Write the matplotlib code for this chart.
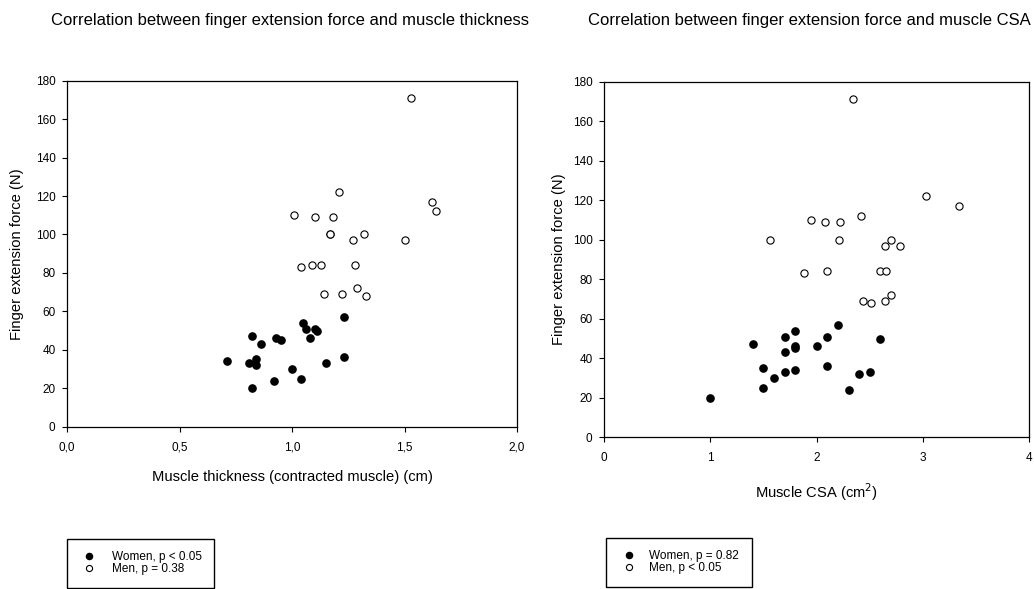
import matplotlib
matplotlib.use("Agg")
from matplotlib import pyplot as plt
from matplotlib.ticker import FuncFormatter

plt.rcParams['font.family'] = ['Liberation Sans', 'DejaVu Sans']

# muscle thickness (cm) vs force (N)
thick_women = [1.23, 1.05, 1.06, 1.10, 1.11, 0.82, 0.93, 0.95, 1.08, 0.86,
               1.23, 0.71, 0.84, 0.81, 0.84, 1.15, 1.00, 1.04, 0.92, 0.82]
force_women_t = [57, 54, 51, 51, 50, 47, 46, 45, 46, 43,
                 36, 34, 35, 33, 32, 33, 30, 25, 24, 20]
thick_men = [1.53, 1.21, 1.62, 1.64, 1.01, 1.10, 1.18, 1.17, 1.17, 1.32,
             1.27, 1.50, 1.04, 1.09, 1.13, 1.28, 1.29, 1.14, 1.22, 1.33]
force_men_t = [171, 122, 117, 112, 110, 109, 109, 100, 100, 100,
               97, 97, 83, 84, 84, 84, 72, 69, 69, 68]

# muscle CSA (cm^2) vs force (N)
csa_women = [2.20, 1.80, 1.70, 2.10, 2.60, 1.40, 1.80, 2.00, 1.80, 1.70,
             1.50, 2.10, 1.70, 1.80, 2.50, 2.40, 1.60, 1.50, 2.30, 1.00]
force_women_c = [57, 54, 51, 51, 50, 47, 46, 46, 45, 43,
                 35, 36, 33, 34, 33, 32, 30, 25, 24, 20]
csa_men = [2.34, 3.03, 3.34, 2.42, 1.95, 2.08, 2.22, 1.56, 2.21, 2.70,
           2.64, 2.78, 1.88, 2.10, 2.60, 2.65, 2.70, 2.44, 2.51, 2.64]
force_men_c = [171, 122, 117, 112, 110, 109, 109, 100, 100, 100,
               97, 97, 83, 84, 84, 84, 72, 69, 68, 69]

yticks = list(range(0, 181, 20))
xticks_thick = [0.0, 0.5, 1.0, 1.5, 2.0]
xticks_csa = [0, 1, 2, 3, 4]


def style(ax):
    ax.tick_params(direction='out', length=3.8, width=0.8, labelsize=8.5)
    ax.tick_params(axis='x', pad=7)
    ax.tick_params(axis='y', pad=4.5)
    for s in ax.spines.values():
        s.set_linewidth(0.9)
    ax.set_yticks(yticks)
    ax.set_ylim(0, 180)


def scatter(ax, xw, yw, xm, ym, lw, lm):
    ax.plot(xw, yw, 'o', color='black', markersize=5.2, linestyle='none', label=lw)
    ax.plot(xm, ym, 'o', markerfacecolor='white', markeredgecolor='black',
            markeredgewidth=0.8, markersize=5.2, linestyle='none', label=lm)


fig = plt.figure(figsize=(10.34, 5.89), dpi=100)

ax1 = fig.add_axes([67 / 1034, 1 - 426.7 / 589, 450 / 1034, 346 / 589])
scatter(ax1, thick_women, force_women_t, thick_men, force_men_t,
        'Women, p < 0.05', 'Men, p = 0.38')
style(ax1)
ax1.set_xlim(0, 2)
ax1.set_xticks(xticks_thick)
ax1.xaxis.set_major_formatter(FuncFormatter(lambda v, p: ('%.1f' % v).replace('.', ',')))
ax1.set_xlabel('Muscle thickness (contracted muscle) (cm)', fontsize=10.6, labelpad=12)
ax1.set_ylabel('Finger extension force (N)', fontsize=10.6, labelpad=8)
fig.text(290 / 1034, 1 - 20 / 589, 'Correlation between finger extension force and muscle thickness',
         ha='center', va='center', fontsize=12)
ax1.legend(loc='upper left', bbox_to_anchor=(67.3 / 1034, 1 - 539 / 589),
           bbox_transform=fig.transFigure, fontsize=8.5, frameon=True, fancybox=False,
           edgecolor='black', framealpha=1, borderpad=1.05, handlelength=1.5,
           handletextpad=1.2, labelspacing=0.0, markerscale=0.85, borderaxespad=0)

ax2 = fig.add_axes([604 / 1034, 1 - 437.3 / 589, 425.3 / 1034, 355.6 / 589])
scatter(ax2, csa_women, force_women_c, csa_men, force_men_c,
        'Women, p = 0.82', 'Men, p < 0.05')
style(ax2)
ax2.set_xlim(0, 4)
ax2.set_xticks(xticks_csa)
ax2.set_xlabel('Muscle CSA (cm$^2$)', fontsize=10.6, labelpad=12)
ax2.set_ylabel('Finger extension force (N)', fontsize=10.6, labelpad=4.5)
fig.text(1031 / 1034, 1 - 20 / 589, 'Correlation between finger extension force and muscle CSA',
         ha='right', va='center', fontsize=12)
ax2.legend(loc='upper left', bbox_to_anchor=(605.7 / 1034, 1 - 538 / 589),
           bbox_transform=fig.transFigure, fontsize=8.5, frameon=True, fancybox=False,
           edgecolor='black', framealpha=1, borderpad=1.05, handlelength=1.9,
           handletextpad=0.75, labelspacing=0.0, markerscale=0.85, borderaxespad=0)

fig.savefig('out.png', dpi=100)
